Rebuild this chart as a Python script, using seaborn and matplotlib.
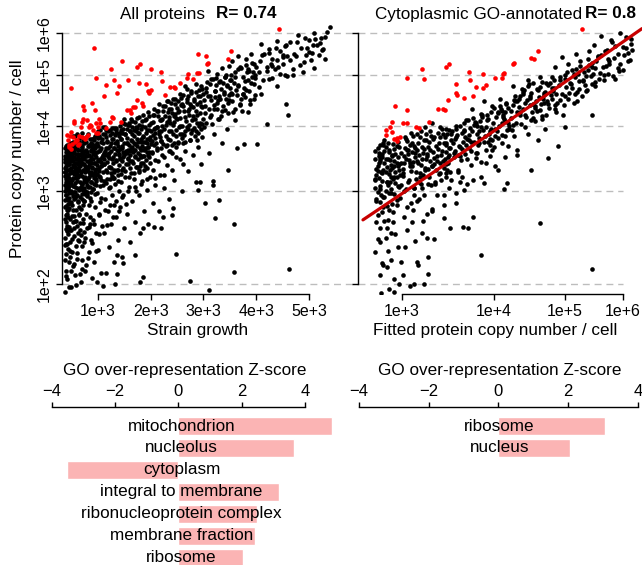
import numpy as np
import matplotlib
matplotlib.use("Agg")
import matplotlib.pyplot as plt
import seaborn as sns
from matplotlib.ticker import NullLocator

# ---------------- data ----------------
# Left panel: strain growth (x) vs log10 protein copy number (y)
left_red = [(924,5.62),(488,4.72),(962,4.93),(1152,4.78),(1303,4.88),(1398,4.76),(1360,4.61),(1455,5.31),
            (1246,5.13),(1114,4.55),(1569,4.88),(1740,5.18),(1796,5.24),(2005,5.13),(1777,4.82),(2194,5.07),
            (2213,4.86),(2365,4.74),(2441,4.74),(2555,4.82),(2801,4.91),(2706,5.02),(2877,5.04),(2915,5.04),
            (2896,5.48),(3048,5.43),(3067,5.24),(3085,5.26),(3522,5.55),(3465,5.35),(4432,6.10),(1740,4.47),
            (1834,4.41),(1853,4.36),(1664,4.34),(1607,4.28),(1550,4.28),(1436,4.07),(1265,4.15),(1152,3.96),
            (1038,4.05),(1000,3.98),(962,4.05),(962,3.87),(905,3.92),(848,4.02),(716,4.36),(735,4.28),
            (697,4.07),(545,4.05),(488,3.89),(469,3.82),(526,3.80),(431,3.76),(450,3.64),(507,3.69),
            (564,3.72),(602,3.76),(697,3.80),(773,3.80),(810,3.84),(1000,3.87),(621,3.68),(488,3.61),
            (1910,4.80),(1948,4.65),(1967,4.61),(2005,4.68),(2270,4.57),(2460,4.72),(2688,4.93),(1626,4.23),
            (1702,4.34),(1284,4.13),(1228,4.07),(886,4.41),(943,4.28),(545,4.08),(716,4.12),(792,4.10),
            (678,3.98),(830,3.98),(867,4.00),(1019,4.11),(412,3.84),(583,3.76),(640,3.82),(754,3.78),
            (450,3.68),(640,3.69)]

left_black = [
    (372,1.93),(410,2.04),(385,2.12),(445,2.2),(395,2.28),(430,2.33),(465,2.4),(380,2.45),(420,2.52),(450,2.57),
    (392,2.62),(470,2.66),(405,2.72),(440,2.76),(375,2.8),(460,2.85),(415,2.9),(388,2.95),(450,3.0),(425,3.04),
    (370,3.08),(475,3.12),(400,3.17),(438,3.22),(382,3.27),(462,3.31),(418,3.36),(395,3.41),(448,3.46),(372,3.5),
    (430,3.55),(405,3.6),(460,3.63),(385,2.38),(440,2.68),(412,3.12),(455,3.38),
    (490,1.97),(560,2.08),(520,2.16),(610,2.23),(500,2.3),(580,2.36),(630,2.41),(540,2.47),(495,2.53),(600,2.58),
    (555,2.63),(515,2.69),(640,2.72),(575,2.77),(505,2.82),(620,2.86),(545,2.9),(590,2.94),(510,2.98),(635,3.02),
    (560,3.06),(490,3.1),(605,3.14),(530,3.18),(580,3.22),(500,3.26),(645,3.3),(555,3.34),(615,3.38),(520,3.42),
    (585,3.46),(495,3.5),(625,3.54),(550,3.58),(600,3.62),(530,3.66),(570,2.99),(600,3.26),(520,3.55),(640,3.45),
    (680,2.02),(760,2.12),(700,2.22),(820,2.3),(730,2.4),(670,2.48),(790,2.55),(840,2.6),(710,2.66),(770,2.72),
    (680,2.78),(830,2.83),(740,2.88),(660,2.93),(800,2.97),(720,3.02),(850,3.06),(690,3.1),(780,3.14),(740,3.18),
    (660,3.22),(820,3.26),(710,3.3),(770,3.34),(680,3.38),(840,3.42),(730,3.46),(800,3.5),(670,3.54),(760,3.58),
    (700,3.62),(830,3.66),(740,3.7),(790,3.3),(690,3.48),(760,3.0),
    (880,2.05),(1050,2.1),(930,2.2),(1000,2.32),(870,2.42),(960,2.5),(1080,2.58),(900,2.65),(1020,2.72),(950,2.8),
    (870,2.87),(1060,2.92),(990,2.98),(910,3.03),(1090,3.08),(860,3.12),(970,3.16),(1040,3.2),(900,3.24),(1010,3.28),
    (880,3.32),(1070,3.36),(950,3.4),(1000,3.44),(870,3.48),(1090,3.52),(930,3.56),(1030,3.6),(890,3.64),(980,3.68),
    (1060,3.72),(920,3.76),(1010,3.8),(950,3.3),(1040,3.45),
    (1150,2.1),(1300,2.2),(1200,2.35),(1380,2.42),(1120,2.5),(1250,2.6),(1350,2.68),(1180,2.75),(1300,2.82),(1130,2.9),
    (1260,2.95),(1390,3.0),(1210,3.05),(1330,3.1),(1110,3.14),(1280,3.18),(1370,3.22),(1170,3.26),(1300,3.3),(1230,3.34),
    (1120,3.38),(1350,3.42),(1260,3.46),(1190,3.5),(1390,3.54),(1140,3.58),(1310,3.62),(1220,3.66),(1360,3.7),(1170,3.74),
    (1280,3.78),(1230,3.84),(1340,3.88),(1150,3.92),(1300,3.96),(1250,3.25),(1200,3.55),(1380,3.3),
    (1450,2.25),(1600,2.4),(1500,2.55),(1700,2.62),(1550,2.72),(1420,2.8),(1650,2.88),(1480,2.95),(1720,3.0),(1580,3.06),
    (1430,3.12),(1680,3.16),(1520,3.2),(1620,3.25),(1460,3.3),(1740,3.34),(1560,3.38),(1650,3.42),(1420,3.46),(1700,3.5),
    (1500,3.54),(1610,3.58),(1460,3.62),(1730,3.66),(1550,3.7),(1640,3.74),(1430,3.78),(1690,3.82),(1520,3.86),(1600,3.9),
    (1470,3.94),(1720,3.98),(1580,4.02),(1650,4.08),(1500,4.12),(1560,3.45),(1680,3.6),
    (1800,2.5),(1950,2.6),(1880,2.75),(2050,2.85),(1780,2.95),(1920,3.02),(2080,3.08),(1840,3.14),(1990,3.2),(1770,3.26),
    (2040,3.3),(1900,3.35),(1820,3.4),(2090,3.44),(1960,3.48),(1790,3.52),(2020,3.56),(1870,3.6),(1940,3.64),(2070,3.68),
    (1810,3.72),(1990,3.76),(1860,3.8),(2050,3.84),(1760,3.88),(1930,3.92),(2080,3.96),(1840,4.0),(2000,4.05),(1900,4.1),
    (1780,4.15),(2060,4.2),(1950,4.25),(1850,3.5),(2010,3.9),(1920,3.7),
    (2150,2.75),(2350,2.9),(2250,3.05),(2450,3.15),(2180,3.22),(2400,3.3),(2300,3.36),(2130,3.42),(2480,3.48),(2220,3.52),
    (2370,3.58),(2110,3.62),(2280,3.66),(2440,3.7),(2200,3.74),(2330,3.78),(2470,3.82),(2160,3.86),(2390,3.9),(2250,3.94),
    (2120,3.98),(2430,4.02),(2310,4.06),(2190,4.1),(2480,4.14),(2270,4.18),(2400,4.22),(2140,4.26),(2350,4.3),(2230,4.35),
    (2460,4.4),(2300,4.45),(2420,4.5),(2200,3.9),(2340,4.1),
    (2600,3.0),(2850,3.12),(2700,3.28),(2950,3.38),(2550,3.45),(2800,3.52),(2650,3.58),(2900,3.64),(2520,3.7),(2750,3.75),
    (2980,3.8),(2600,3.85),(2850,3.9),(2700,3.95),(2560,4.0),(2930,4.05),(2780,4.1),(2640,4.15),(2880,4.2),(2520,4.25),
    (2720,4.3),(2960,4.35),(2600,4.4),(2820,4.45),(2680,4.5),(2900,4.55),(2560,4.6),(2760,4.65),(2980,4.7),(2650,4.75),
    (2860,4.8),(2750,4.4),(2620,3.7),
    (3100,3.55),(3350,3.7),(3200,3.85),(3450,3.95),(3050,4.05),(3300,4.12),(3150,4.2),(3400,4.28),(3020,4.35),(3250,4.42),
    (3480,4.48),(3120,4.55),(3380,4.6),(3220,4.66),(3050,4.72),(3440,4.78),(3300,4.84),(3150,4.9),(3400,4.96),(3250,5.02),
    (3080,5.08),(3350,5.14),(3480,5.2),(3200,4.3),(3320,4.5),
    (3600,4.1),(3850,4.25),(3700,4.4),(3950,4.5),(3550,4.6),(3800,4.68),(3650,4.75),(3900,4.82),(3520,4.88),(3750,4.94),
    (3980,5.0),(3600,5.06),(3850,5.12),(3700,5.18),(3950,5.24),(3550,5.3),(3800,5.36),(3650,5.42),(3900,5.48),(3750,4.6),
    (4100,4.6),(4400,4.75),(4250,4.9),(4550,5.0),(4050,5.06),(4350,5.12),(4200,5.18),(4500,5.24),(4080,5.3),(4300,5.36),
    (4580,5.42),(4150,5.48),(4450,5.54),(4250,5.6),(4550,5.66),(4100,5.72),(4400,5.8),(4300,5.2),(4500,5.4),
    (4700,5.0),(5100,5.15),(4900,5.28),(5300,5.35),(4750,5.42),(5050,5.5),(5250,5.56),(4850,5.62),(5150,5.7),(4650,5.76),
    (5000,5.82),(5300,5.9),(4800,5.95),(5100,6.0),(5400,6.15),(4950,5.45),(5200,5.75),
    (2479,2.28),(2744,2.03),(3105,1.95),(3579,2.11),(3579,2.6),(4621,2.14),(4602,4.2),(4564,4.4),(4204,4.03),(4014,3.69),
    (3768,3.69),(3636,3.63),(3465,3.29),(3180,3.14),(3180,3.08),(3294,2.89),(3218,2.67),(3029,2.85),(2934,3.13),(2896,3.02),
    (2422,2.79),(2403,2.7),(2232,2.68),(2194,2.56),(2062,2.57),(1853,2.56),(1853,2.06),(1796,2.02),(1701,2.27),(1360,2.27),
    (1474,2.19),(1360,2.09),(1322,2.0),(1095,1.98),(981,2.02)]

left_black_core = [
    (377,3.41),(612,2.88),(455,3.07),(829,3.52),(398,2.71),(703,3.66),(541,3.24),(926,3.18),(469,2.53),(651,3.79),
    (384,3.12),(758,2.97),(502,3.58),(881,3.34),(427,2.84),(596,3.45),(715,3.02),(975,3.71),(436,3.63),(667,2.61),
    (391,2.95),(573,3.31),(804,3.85),(519,2.77),(944,3.27),(408,3.5),(689,3.21),(482,3.58),(862,2.99),(627,3.38),
    (372,2.66),(741,3.47),(558,2.92),(903,3.61),(446,3.29),(784,3.08),(531,3.72),(999,3.43),(417,3.16),(639,2.7),
    (462,3.55),(857,3.24),(386,3.49),(722,2.83),(585,3.63),(948,2.96),(495,3.01),(676,3.54),(813,3.33),(403,2.58),
    (566,3.83),(731,3.14),(452,2.79),(892,3.78),(615,3.19),(379,3.26),(769,3.59),(523,3.36),(967,3.09),(699,2.9),
    (441,3.44),(838,3.68),(590,2.64),(411,3.68),(754,3.26),(508,3.15),(915,3.4),(647,3.51),(374,3.0),(791,2.94),
    (548,3.49),(876,3.13),(426,2.89),(711,3.74),(479,3.33),(984,3.56),(601,3.04),(393,3.57),(822,3.41),(537,2.69),
    (659,3.35),(934,3.83),(418,3.22),(772,3.73),(571,3.11),(851,2.91),(468,3.7),(683,3.06),(389,2.81),(627,3.6),
    (742,3.38),(515,3.47),(897,3.46),(432,3.02),(805,3.17),(580,3.71),(961,3.31),(497,2.86),(668,3.27),(375,3.62),
    (711,3.5),(449,3.18),(858,3.6),(554,3.28),(918,3.1),(401,3.35),(784,3.43),(633,2.8),(488,3.43),(995,3.79),
    (740,2.87),(423,3.55),(587,3.54),(870,3.39),(530,3.07),(693,3.87),(458,2.98),(818,3.06),(382,3.21),(952,3.62),
    (612,3.32),(767,3.81),(509,3.26),(884,3.69),(439,3.52),(651,3.13),(934,3.21),(546,3.62),(394,3.05),(725,3.29),
    (471,3.12),(839,3.77),(598,3.22),(967,3.48),(414,2.76),(700,3.1),(563,3.4),(798,3.57),(380,2.89),(911,3.03),
    (643,3.73),(485,3.66),(757,3.2),(532,3.82),(874,3.27),(404,3.46),(682,3.44),(987,3.37),(454,3.38),(608,2.95),
    (828,3.36),(521,2.94),(715,3.56),(372,3.46),(941,3.51),(576,3.18),(794,2.99),(436,3.09),(663,3.68),(898,3.53),
    (499,3.71),(747,3.35),(395,3.66),(620,3.5),(851,3.44),(540,3.34),(976,3.24),(428,3.4),(688,2.97),(808,3.66),
    (465,3.25),(589,3.3),(733,3.77),(381,3.32),(919,3.79),(514,3.53),(664,3.04),(862,3.7),(447,3.48),(779,3.12),
    (603,3.85),(956,3.14),(409,3.6),(735,3.04),(552,2.99),(886,3.22),(476,3.5),(642,3.41),(823,3.19),(389,3.42),
    (700,3.4),(527,3.66),(939,3.68),(457,2.92),(761,3.52),(593,3.39),(869,3.58),(420,3.3),(672,3.59),(991,3.9),
    (1013,3.44),(1462,3.87),(1228,3.16),(1795,3.63),(1088,3.71),(1604,3.32),(1337,3.92),(1911,3.88),(1156,3.29),(1523,3.58),
    (1702,4.07),(1041,3.07),(1389,3.51),(1847,3.39),(1265,3.77),(1638,3.85),(1119,3.55),(1976,4.02),(1434,3.24),(1570,4.01),
    (1198,3.9),(1753,3.46),(1061,3.35),(1306,3.18),(1889,3.61),(1487,3.7),(1025,3.82),(1666,3.56),(1372,3.66),(1942,3.52),
    (1143,3.11),(1541,3.94),(1817,3.95),(1245,3.58),(1412,3.99),(1721,3.34),(1078,3.48),(1593,3.67),(1959,4.17),(1290,3.4),
    (1176,3.72),(1858,3.72),(1449,3.43),(1627,4.11),(1010,3.21),(1353,3.3),(1778,3.87),(1215,3.47),(1509,3.28),(1903,3.44),
    (1102,3.86),(1684,3.71),(1321,3.84),(1562,3.47),(1996,3.69),(1258,3.21),(1741,4.13),(1419,3.61),(1051,3.62),(1832,4.08),
    (1477,4.04),(1169,3.41),(1615,3.52),(1925,3.78),(1382,3.14),(1233,3.93),(1709,3.6),(1094,3.26),(1551,3.79),(1871,3.5),
    (1299,3.62),(1659,3.4),(1136,3.97),(1441,3.78),(1984,3.4),(1027,3.58),(1763,3.72),(1365,3.74),(1586,3.2),(1821,3.59),
    (1205,3.34),(1498,3.52),(1917,4.12),(1072,3.77),(1676,3.93),(1328,3.53),(1850,3.83),(1185,3.62),(1537,3.38),(1790,3.35),
    (1406,3.36),(1955,3.65),(1113,3.38),(1645,3.65),(1271,3.88),(1730,3.96),(1032,3.92),(1467,3.57),(1882,3.97),(1348,3.44),
    (1604,3.9),(1157,3.8),(1768,3.29),(1430,3.93),(1938,3.33),(1247,3.71),(1518,4.03),(1066,3.15),(1694,3.48),(1311,3.27),
    (1862,4.2),(1575,3.6),(1127,3.52),(1809,3.48),(1393,3.82),(1971,3.57),(1220,3.06),(1630,3.75),(1482,3.33),(1092,3.97),
    (1745,3.78),(1339,3.96),(1899,3.73),(1192,3.53),(1557,3.71),(1003,3.66),(1823,3.77),(1451,3.66),(1676,3.25),(1280,3.49),
    (1965,3.92),(1148,3.63),(1611,3.43),(1375,3.58),(1720,3.9),(1053,3.41),(1876,3.3),(1509,3.85),(1238,3.33),(1786,4.01),
    (1420,3.47),(1929,3.56),(1110,3.45),(1652,3.98),(1315,3.7),(1544,3.55),(1839,3.66),(1174,3.17),(1992,3.8),(1397,3.88),
    (1698,3.69),(1018,3.32),(1263,3.96),(1590,4.05),(1895,3.63),(1470,3.48),(1755,3.55),(1134,3.85),(1361,3.59),(1627,3.63),
    (2031,3.74),(2466,4.21),(2812,3.96),(2207,4.12),(2655,3.72),(2943,4.55),(2348,3.58),(2579,4.38),(2109,3.97),(2771,4.62),
    (2420,3.86),(2988,4.12),(2255,3.49),(2702,4.27),(2064,4.31),(2533,3.97),(2886,4.4),(2174,3.81),(2611,4.58),(2393,4.3),
    (2837,3.82),(2292,4.02),(2952,3.94),(2488,3.64),(2139,4.18),(2725,4.02),(2560,4.14),(2015,3.55),(2917,4.68),(2321,4.24),
    (2646,3.9),(2087,3.88),(2798,4.18),(2444,4.07),(2233,3.69),(2978,4.34),(2515,4.45),(2688,4.44),(2366,3.75),(2856,4.27),
    (2151,4.4),(2595,3.79),(2047,4.06),(2761,3.88),(2412,3.55),(2902,3.88),(2270,4.35),(2627,4.26),(2198,3.62),(2962,4.76),
    (2545,4.26),(2826,4.5),(2337,3.9),(2092,3.7),(2710,4.55),(2478,3.93),(2929,4.22),(2219,3.99),(2663,4.08),(2385,4.42),
    (2874,4.05),(2125,3.6),(2589,4.0),(2754,4.36),(2306,3.67),(2507,4.33),(2992,4.6),(2046,4.2),(2739,3.76),(2432,4.18),
    (2858,4.63),(2183,4.1),(2621,3.84),(2354,4.15),(2968,4.03),(2525,3.72),(2283,3.83),(2695,3.97),(2076,3.79),(2805,4.34),
    (2456,4.5),(2240,4.26),(2938,4.44),(2572,4.52),(2163,3.91),(2680,4.7),(2398,3.68),(2846,4.12),(2118,4.26),(2612,4.36),
    (2328,4.45),(2780,3.93),(2497,4.12),(2909,4.0),(2203,3.74),(2731,4.2),(2056,3.95),(2552,3.86),(2873,3.76),(2372,4.05),
    (3037,4.22),(3512,4.71),(3284,4.48),(3829,5.07),(3161,4.03),(3690,4.38),(3405,4.95),(3955,4.79),(3218,4.66),(3603,4.95),
    (3083,4.55),(3746,4.59),(3341,4.18),(3877,4.47),(3462,4.42),(3129,4.79),(3555,4.24),(3992,5.17),(3257,4.3),(3661,4.77),
    (3019,3.98),(3781,4.86),(3390,4.63),(3911,5.26),(3194,4.38),(3527,5.0),(3308,4.86),(3713,5.14),(3106,4.31),(3855,4.66),
    (3441,4.76),(3630,4.57),(3231,4.93),(3968,4.58),(3366,4.35),(3578,4.83),(3054,4.64),(3804,5.21),(3487,4.58),(3271,4.12),
    (3735,4.27),(3142,4.47),(3928,4.95),(3419,4.5),(3652,5.12),(3001,4.48),(3546,4.45),(3329,4.7),(3891,4.4),(3180,4.9),
    (3767,4.72),(3457,4.23),(3068,4.85),(3619,4.67),(3295,4.56),(3842,4.88),(3505,4.88),(3211,4.54),(3983,4.93),(3376,4.83),
    (3702,4.49),(3117,4.15),(3589,4.31),(3872,5.08),(3430,4.99),(3243,4.77),(3796,4.53),(3531,4.62),(3351,4.27),(3946,5.05),
    (4047,4.73),(4388,5.33),(4712,5.48),(4195,5.09),(4560,5.7),(4971,5.63),(4304,4.92),(4830,5.21),(5124,5.84),(4106,5.45),
    (4453,5.02),(5268,5.6),(4638,5.33),(4922,5.88),(4251,5.5),(5035,5.34),(4377,5.62),(4770,5.76),(5191,5.45),(4130,4.88),
    (4502,5.45),(4885,5.05),(5337,6.02),(4274,5.24),(4695,5.12),(5085,5.7),(4418,5.18),(4996,5.52),(4589,4.98),(5230,5.88),
    (392,2.07),(466,2.31),(538,2.18),(611,2.42),(427,2.49),(702,2.36),(375,2.22),(574,1.99),(651,2.53),(489,2.12),
    (757,2.45),(834,2.57),(412,2.38),(927,2.6),(553,2.55),(688,2.14),(1014,2.7),(443,1.97),(816,2.24),(1126,2.76),
    (596,2.29),(384,2.54),(722,2.61),(1231,2.82),(505,2.43),(891,2.39),(1340,2.88),(649,2.09),(1020,2.49),(1455,2.93),
    (470,2.25),(781,2.17),(1172,2.59),(1576,3.0),(366,2.37),(959,2.31),(1693,3.06),(621,2.5),(1288,2.68),(1812,3.1),
    (857,2.68),(1407,2.75),(1925,3.16),(531,2.62),(1047,2.86),(2089,3.18),(740,2.51),(1530,2.84),(2256,3.22),(2611,3.38)]

# Right panel: log10 fitted copy number (x) vs log10 copy number (y)
right_red = [(5.28,6.10),(4.60,5.55),(4.54,5.35),(4.25,5.24),(4.12,5.02),(4.02,4.93),(4.10,4.93),(3.87,5.02),
             (3.87,4.72),(3.79,4.74),(3.75,4.55),(3.70,5.07),(3.71,4.88),(3.64,4.51),(3.57,4.57),(3.56,4.61),
             (3.56,4.80),(3.48,5.24),(3.44,5.18),(3.47,4.47),(3.43,4.28),(3.41,4.30),(3.36,4.30),(3.27,4.07),
             (3.22,4.91),(3.20,5.13),(3.17,3.96),(3.14,3.98),(3.05,4.93),(3.05,4.28),(3.01,4.05),(3.05,4.05),
             (2.94,4.36),(2.91,4.07),(2.89,3.98),(2.85,3.92),(2.85,3.84),(2.91,3.89),(2.95,3.79),(2.98,3.80),
             (4.13,5.04),(4.26,5.26),(4.50,5.38),(3.91,4.78),(2.93,3.77),(2.95,3.74)]

right_black = [
    (2.76,2.3),(2.85,2.45),(2.8,2.55),(2.92,2.62),(2.78,2.7),(2.88,2.76),(2.95,2.82),(2.77,2.88),(2.84,2.93),(2.9,2.98),
    (2.8,3.03),(2.96,3.07),(2.86,3.12),(2.76,3.16),(2.93,3.2),(2.82,3.25),(2.89,3.3),(2.78,3.35),(2.95,3.4),(2.85,3.45),
    (2.91,3.5),(2.79,3.55),(2.88,3.6),(2.97,3.65),(2.83,3.7),(2.9,2.5),(2.83,2.8),(2.93,3.35),(2.8,3.45),(2.87,2.65),
    (3.03,2.35),(3.2,2.5),(3.1,2.62),(3.25,2.72),(3.05,2.8),(3.15,2.88),(3.22,2.95),(3.02,3.0),(3.12,3.05),(3.26,3.1),
    (3.07,3.15),(3.18,3.2),(3.01,3.25),(3.23,3.3),(3.1,3.35),(3.16,3.4),(3.04,3.45),(3.25,3.5),(3.13,3.55),(3.06,3.6),
    (3.2,3.65),(3.1,3.7),(3.24,3.75),(3.03,3.8),(3.15,3.85),(3.19,3.1),(3.08,3.4),(3.21,3.55),(3.12,2.95),
    (3.3,2.75),(3.55,2.85),(3.42,2.95),(3.65,3.02),(3.33,3.1),(3.5,3.15),(3.62,3.2),(3.38,3.25),(3.58,3.3),(3.3,3.35),
    (3.46,3.4),(3.68,3.45),(3.35,3.5),(3.53,3.55),(3.28,3.6),(3.6,3.65),(3.44,3.7),(3.7,3.75),(3.32,3.8),(3.5,3.85),
    (3.64,3.9),(3.4,3.95),(3.56,4.0),(3.3,4.05),(3.67,4.1),(3.48,3.62),(3.38,3.4),(3.6,3.5),(3.45,3.2),(3.54,3.78),
    (3.75,3.15),(4.05,3.3),(3.9,3.4),(4.15,3.48),(3.8,3.55),(3.98,3.6),(4.18,3.66),(3.73,3.72),(3.95,3.78),(4.1,3.84),
    (3.82,3.9),(4.02,3.95),(4.2,4.0),(3.78,4.05),(3.92,4.1),(4.12,4.15),(3.86,4.2),(4.06,4.25),(3.74,4.3),(3.98,4.35),
    (4.16,4.4),(3.88,4.45),(4.08,4.5),(3.95,3.9),(4.1,4.05),(3.82,3.7),
    (4.3,3.6),(4.6,3.75),(4.45,3.85),(4.7,3.95),(4.25,4.02),(4.5,4.1),(4.65,4.18),(4.35,4.25),(4.55,4.32),(4.75,4.4),
    (4.28,4.46),(4.48,4.52),(4.68,4.58),(4.38,4.64),(4.58,4.7),(4.25,4.76),(4.72,4.82),(4.45,4.88),(4.62,4.95),(4.33,4.5),
    (4.52,4.4),(4.42,4.2),
    (4.85,4.3),(5.2,4.45),(5.0,4.55),(5.35,4.65),(4.8,4.72),(5.1,4.8),(5.3,4.88),(4.92,4.95),(5.15,5.02),(5.38,5.1),
    (4.85,5.18),(5.05,5.25),(5.25,5.32),(4.95,5.4),(5.18,5.48),(5.4,5.55),(5.0,5.0),(5.22,4.7),
    (5.5,4.75),(5.85,4.9),(5.65,5.0),(6.0,5.1),(5.45,5.18),(5.75,5.25),(6.1,5.32),(5.55,5.4),(5.9,5.48),(5.68,5.55),
    (6.05,5.62),(5.48,5.7),(5.8,5.78),(6.15,5.85),(5.6,5.92),(5.95,6.0),(5.72,5.35),(5.9,5.15),
    (4.63,2.61),(5.44,2.14),(3.85,2.27),(5.44,4.2),(4.5,3.29),(4.74,3.47),(4.9,3.66),(5.0,3.98),(4.17,3.11),(4.13,3.03),
    (3.88,3.11),(3.75,2.68),(3.69,2.56),(3.63,2.57),(3.49,2.56),(3.42,2.67),(3.32,2.44),(3.26,2.25),(3.22,2.0),(3.26,2.09),
    (3.15,2.2),(3.16,2.17),(3.08,1.98),(3.12,2.0),(3.01,2.08),(2.97,2.0),(2.93,2.04),(2.93,1.93),(2.88,1.96),(2.82,2.19),
    (2.83,2.17),(2.8,2.4),(2.86,2.15),(2.81,1.92)]

right_black_core = [
    (2.77,3.31),(2.93,2.97),(2.84,3.58),(2.98,3.22),(2.8,2.86),(2.89,3.44),(2.76,3.05),(2.95,3.66),(2.86,3.13),(2.82,3.49),
    (2.91,2.84),(2.78,3.62),(2.97,3.38),(2.85,3.01),(2.79,3.18),(2.94,3.53),(2.87,3.71),(2.81,3.27),(2.99,3.09),(2.9,3.36),
    (2.76,3.45),(2.92,3.17),(2.83,2.93),(2.96,3.48),(2.88,3.24),(2.78,2.99),(2.95,2.89),(2.84,3.4),(2.8,3.68),(2.93,3.61),
    (2.86,2.81),(2.99,3.55),(2.77,3.22),(2.9,3.03),(2.82,3.14),(2.97,3.29),(2.88,3.57),(2.79,3.39),(2.94,3.11),(2.85,3.26),
    (2.81,2.95),(2.96,3.72),(2.87,3.46),(2.76,3.58),(2.91,3.33),(2.83,3.67),(2.98,2.91),(2.89,3.12),(2.78,3.28),(2.93,3.42),
    (2.86,3.34),(2.8,3.07),(2.95,3.19),(2.84,3.75),(2.91,3.51),(2.77,2.9),(2.99,3.4),(2.88,2.98),(2.82,3.54),(2.94,3.27),
    (2.79,3.5),(2.97,3.06),(2.85,3.64),(2.9,3.2),(2.76,3.15),(2.92,3.69),(2.83,3.3),(2.96,3.35),(2.87,3.09),(2.8,3.43),
    (3.02,3.39),(3.31,3.77),(3.17,3.12),(3.44,3.56),(3.08,3.68),(3.26,3.31),(3.48,3.92),(3.13,3.48),(3.37,3.24),(3.04,3.03),
    (3.22,3.61),(3.41,3.43),(3.11,3.83),(3.29,3.09),(3.46,3.3),(3.06,3.53),(3.34,3.66),(3.19,3.37),(3.43,3.81),(3.01,3.21),
    (3.24,3.86),(3.39,3.15),(3.15,3.59),(3.32,3.47),(3.49,3.63),(3.09,3.28),(3.27,3.72),(3.45,3.38),(3.12,3.04),(3.36,3.88),
    (3.05,3.74),(3.21,3.22),(3.42,3.7),(3.18,3.81),(3.3,3.35),(3.47,3.49),(3.07,3.44),(3.25,3.54),(3.38,3.97),(3.14,3.27),
    (3.33,3.13),(3.03,3.63),(3.2,3.45),(3.44,3.25),(3.1,3.57),(3.28,3.9),(3.4,3.58),(3.16,3.7),(3.35,3.42),(3.5,3.76),
    (3.06,3.13),(3.23,3.33),(3.46,3.86),(3.12,3.66),(3.31,3.56),(3.02,3.5),(3.27,3.19),(3.42,3.33),(3.19,3.91),(3.37,3.71),
    (3.08,3.35),(3.48,3.52),(3.24,3.46),(3.14,3.16),(3.34,3.29),(3.04,3.78),(3.29,3.82),(3.44,3.95),(3.2,3.05),(3.39,3.52),
    (3.11,3.41),(3.26,3.64),(3.47,3.4),(3.17,3.52),(3.36,3.61),(3.01,3.31),(3.22,3.76),(3.41,3.85),(3.13,3.62),(3.32,3.38),
    (3.49,3.27),(3.09,3.87),(3.28,3.43),(3.45,3.67),(3.18,3.25),(3.38,3.8),(3.05,3.6),(3.23,3.98),(3.43,3.46),(3.15,3.42),
    (3.53,3.48),(3.91,3.97),(3.7,3.62),(4.12,4.2),(3.62,3.88),(3.84,3.41),(4.05,3.79),(3.58,3.27),(3.97,4.25),(3.76,4.02),
    (4.17,3.92),(3.66,3.53),(3.88,3.73),(3.55,3.95),(4.08,4.35),(3.8,3.85),(3.59,3.66),(4.01,3.64),(3.72,3.37),(4.15,4.08),
    (3.64,4.05),(3.94,3.86),(3.52,3.71),(3.86,4.15),(4.1,3.7),(3.68,3.77),(3.99,4.04),(3.78,3.55),(4.19,4.33),(3.57,3.84),
    (3.9,3.6),(3.74,3.91),(4.03,4.16),(3.61,3.44),(3.83,4.09),(4.14,3.83),(3.69,4.1),(3.96,3.5),(3.54,3.58),(3.81,3.67),
    (4.07,4.0),(3.75,4.14),(3.6,3.99),(3.93,4.12),(4.16,4.41),(3.67,3.68),(3.87,3.92),(4.04,3.9),(3.56,3.8),(3.79,3.47),
    (4.11,4.27),(3.71,3.96),(3.98,3.76),(3.63,3.72),(3.85,3.98),(4.18,4.04),(3.73,3.58),(3.92,4.2),(4.06,4.23),(3.58,3.52),
    (3.82,3.79),(4.13,4.12),(3.65,3.92),(3.95,3.67),(3.77,4.07),(4.02,3.83),(3.51,3.9),(3.89,3.83),(4.09,4.3),(3.7,3.84),
    (3.97,3.95),(3.62,3.61),(3.84,4.21),(4.2,3.95),(3.76,3.72),(4.0,4.32),(3.66,3.81),(3.93,3.72),(4.15,4.25),(3.8,4.0),
    (4.23,4.14),(4.61,4.53),(4.42,3.97),(4.84,4.71),(4.31,4.46),(4.72,4.2),(4.5,4.62),(4.27,3.82),(4.66,4.85),(4.38,4.3),
    (4.88,4.42),(4.46,4.75),(4.25,4.38),(4.79,4.57),(4.56,4.08),(4.35,4.56),(4.69,4.41),(4.29,4.05),(4.83,4.89),(4.48,4.37),
    (4.63,4.29),(4.4,4.68),(4.76,4.33),(4.22,4.27),(4.53,4.83),(4.87,4.6),(4.34,4.19),(4.59,4.67),(4.44,4.48),(4.74,4.77),
    (4.28,4.55),(4.65,4.12),(4.51,4.24),(4.81,4.49),(4.37,4.69),(4.7,4.64),(4.24,3.93),(4.57,4.45),(4.86,4.25),(4.43,4.16),
    (4.67,4.5),(4.33,4.34),(4.78,4.82),(4.49,4.55),(4.26,4.48),(4.62,4.73),(4.41,4.42),(4.85,4.37),(4.55,4.35),(4.3,4.25),
    (4.73,4.46),(4.47,4.8),(4.64,4.4),(4.36,4.03),(4.82,4.66),(4.52,4.14),(4.68,4.62),(4.39,4.6),(4.8,4.94),(4.58,4.27),
    (4.93,4.47),(5.35,4.98),(5.12,4.72),(5.52,5.31),(5.01,4.91),(5.27,4.55),(4.97,4.2),(5.44,4.79),(5.18,5.13),(5.06,4.61),
    (5.58,5.04),(5.23,4.86),(4.91,4.78),(5.39,5.22),(5.14,4.42),(5.49,4.85),(5.03,5.05),(5.31,5.07),(5.2,4.64),(4.95,4.6),
    (5.55,5.42),(5.09,4.83),(5.42,4.97),(5.25,5.2),(4.99,4.37),(5.36,4.67),(5.16,4.95),(5.5,5.14),(5.05,4.5),(5.29,4.87),
    (5.46,5.02),(4.92,4.88),(5.21,5.01),(5.38,5.36),(5.11,5.1),(5.57,4.9),(5.02,4.73),(5.33,4.77),(5.45,5.27),(5.17,4.59),
    (5.63,5.16),(6.02,5.44),(5.81,4.97),(6.16,5.73),(5.7,5.58),(5.95,5.25),(5.66,4.88),(6.09,5.5),(5.86,5.66),(5.75,5.31),
    (6.05,5.9),(5.61,5.45),(5.92,5.08),(6.13,5.34),(5.78,5.81),(5.69,5.2),(6.0,5.65),(5.84,5.38),(6.18,5.58),(5.73,5.02),
    (2.78,2.44),(2.9,2.22),(2.84,2.63),(2.96,2.35),(2.8,2.08),(3.05,2.53),(2.92,2.74),(3.13,2.41),(2.87,2.31),(3.21,2.64),
    (2.99,2.2),(3.3,2.78),(2.82,2.74),(3.09,2.85),(3.42,2.83),(2.94,2.49),(3.17,2.9),(3.55,2.98),(3.02,2.68),(3.35,2.95),
    (3.68,3.1),(2.86,2.56),(3.25,2.45),(3.85,3.2),(3.11,2.76),(3.48,3.05),(4.02,3.35),(2.77,2.62),(3.6,3.12),(4.3,3.52)]

fit_intercept = 0.168
fit_slope = 0.934

log_ticks = [2, 3, 4, 5, 6]
log_tick_labels = ["1e+2", "1e+3", "1e+4", "1e+5", "1e+6"]
growth_ticks = [1000, 2000, 3000, 4000, 5000]
growth_tick_labels = ["1e+3", "2e+3", "3e+3", "4e+3", "5e+3"]
fitted_ticks = [3, 4, 5, 6]
fitted_tick_labels = ["1e+3", "1e+4", "1e+5", "1e+6"]

left_terms = ["mitochondrion", "nucleolus", "cytoplasm", "integral to membrane",
              "ribonucleoprotein complex", "membrane fraction", "ribosome"]
left_z = [4.86, 3.66, -3.51, 3.19, 2.48, 2.43, 2.04]
right_terms = ["ribosome", "nucleus"]
right_z = [3.04, 2.05]
z_ticks = [-4, -2, 0, 2, 4]

# ---------------- style ----------------
sns.set_theme(style="ticks")
plt.rcParams["font.family"] = ["Liberation Sans", "DejaVu Sans"]
for k in ["text.color", "axes.labelcolor", "xtick.color", "ytick.color", "axes.edgecolor"]:
    plt.rcParams[k] = "black"

W, H = 642, 565
fig = plt.figure(figsize=(W / 100, H / 100), dpi=100)


def axes_px(x0, y0, x1, y1):
    return fig.add_axes([x0 / W, 1 - y1 / H, (x1 - x0) / W, (y1 - y0) / H])


def ftext(px, py, s, **kw):
    return fig.text(px / W, 1 - py / H, s, **kw)


RED = "#FF0000"
GRID = "#BDBDBD"
PINK = "#FBB4B4"
MS = 11
TICK_FS = 11.5
LAB_FS = 12.3

lbx, lby = np.array(left_black + left_black_core, float).T
lrx, lry = np.array(left_red, float).T
rbx, rby = np.array(right_black + right_black_core, float).T
rrx, rry = np.array(right_red, float).T

YLIM = (1.914, 6.297)


def style_scatter(ax):
    ax.set_yscale("log")
    ax.set_ylim(*YLIM)
    ax.yaxis.set_minor_locator(NullLocator())
    ax.set_yticks(log_ticks)
    for side in ["top", "right"]:
        ax.spines[side].set_visible(False)
    ax.spines["left"].set_bounds(2, 6)
    ax.spines["left"].set_linewidth(1.0)
    ax.spines["bottom"].set_linewidth(1.0)
    ax.tick_params(axis="both", which="major", direction="out", length=4.3, width=1.0,
                   labelsize=TICK_FS, pad=3.0, left=True, bottom=True)
    ax.set_xlabel("")
    ax.set_ylabel("")
    ax.set_facecolor("none")


# ---- left scatter ----
ax1 = axes_px(62, 22, 358, 294)
ax1.set_xlim(317, 5930)
ax1.hlines(log_ticks, 317, 5930, colors=GRID, linestyles=(0, (5, 3.5)), lw=1.0, zorder=0)
sns.scatterplot(x=lbx, y=lby, ax=ax1, color="black", s=MS, linewidth=0, zorder=2)
sns.scatterplot(x=lrx, y=lry, ax=ax1, color=RED, s=MS, linewidth=0, zorder=3)
style_scatter(ax1)
ax1.set_xlim(317, 5930)
ax1.set_xticks(growth_ticks)
ax1.set_xticklabels(growth_tick_labels)
ax1.set_yticklabels(log_tick_labels)
plt.setp(ax1.get_yticklabels(), rotation=90, va="center")
ax1.spines["bottom"].set_bounds(1000, 5000)

# ---- right scatter ----
ax2 = axes_px(358, 22, 642, 294)
ax2.set_xscale("log")
ax2.set_xlim(2.614, 6.37)
ax2.hlines(log_ticks, 2.614, 6.0, colors=GRID, linestyles=(0, (5, 3.5)), lw=1.0, zorder=0)
sns.scatterplot(x=rbx, y=rby, ax=ax2, color="black", s=MS, linewidth=0, zorder=2)
sns.scatterplot(x=rrx, y=rry, ax=ax2, color=RED, s=MS, linewidth=0, zorder=3)
fit_x = np.linspace(2.655, 6.37, 60)
fit_y = fit_intercept + fit_slope * fit_x
sns.lineplot(x=fit_x, y=fit_y, ax=ax2, color="#C80000", lw=2.3, zorder=4, sort=False)
style_scatter(ax2)
ax2.set_xscale("log")
ax2.set_xlim(2.614, 6.37)
ax2.xaxis.set_minor_locator(NullLocator())
ax2.set_xticks(fitted_ticks)
ax2.set_xticklabels(fitted_tick_labels)
ax2.set_yticklabels([""] * len(log_ticks))
ax2.spines["bottom"].set_bounds(3, 6)

# titles / labels of scatter panels
ftext(205, 14, "All proteins", ha="right", va="center", fontsize=LAB_FS)
ftext(216, 14, "R= 0.74", ha="left", va="center", fontsize=LAB_FS, fontweight="bold")
ftext(582, 14, "Cytoplasmic GO-annotated", ha="right", va="center", fontsize=LAB_FS)
ftext(585, 14, "R= 0.8", ha="left", va="center", fontsize=LAB_FS, fontweight="bold")
ftext(198, 330, "Strain growth", ha="center", va="center", fontsize=LAB_FS)
ftext(495, 330, "Fitted protein copy number / cell", ha="center", va="center", fontsize=LAB_FS)
ftext(18, 159, "Protein copy number / cell", ha="center", va="center", rotation=90, fontsize=LAB_FS)


# ---- bar panels ----
def bar_panel(ax, terms, z, xlim, label_x):
    sns.barplot(x=z, y=terms, ax=ax, color=PINK, saturation=1, width=0.82, orient="h", zorder=1)
    ax.set_xlim(*xlim)
    ax.set_ylim(6.32, -0.864)
    for side in ["bottom", "left", "right"]:
        ax.spines[side].set_visible(False)
    ax.spines["top"].set_visible(True)
    ax.spines["top"].set_bounds(-4, 4)
    ax.spines["top"].set_linewidth(1.0)
    ax.set_yticks([])
    ax.xaxis.set_ticks_position("top")
    ax.set_xticks(z_ticks)
    ax.tick_params(axis="x", top=True, labeltop=True, bottom=False, labelbottom=False,
                   direction="out", length=3.6, width=1.0, pad=2.2, labelsize=12)
    ax.set_xlabel("")
    ax.set_ylabel("")
    ax.set_facecolor("none")
    for i, t in enumerate(terms):
        ax.text(label_x, i, t, ha="center", va="center", fontsize=LAB_FS, zorder=3)


ax3 = axes_px(20, 407, 340, 565)
bar_panel(ax3, left_terms, left_z, (-5.012, 5.107), 0.1)
ax4 = axes_px(342, 407, 642, 565)
bar_panel(ax4, right_terms, right_z, (-4.487, 4.115), 0.03)

ftext(185, 371, "GO over-representation Z-score", ha="center", va="center", fontsize=LAB_FS)
ftext(500, 371, "GO over-representation Z-score", ha="center", va="center", fontsize=LAB_FS)

fig.savefig("out.png", dpi=100)
